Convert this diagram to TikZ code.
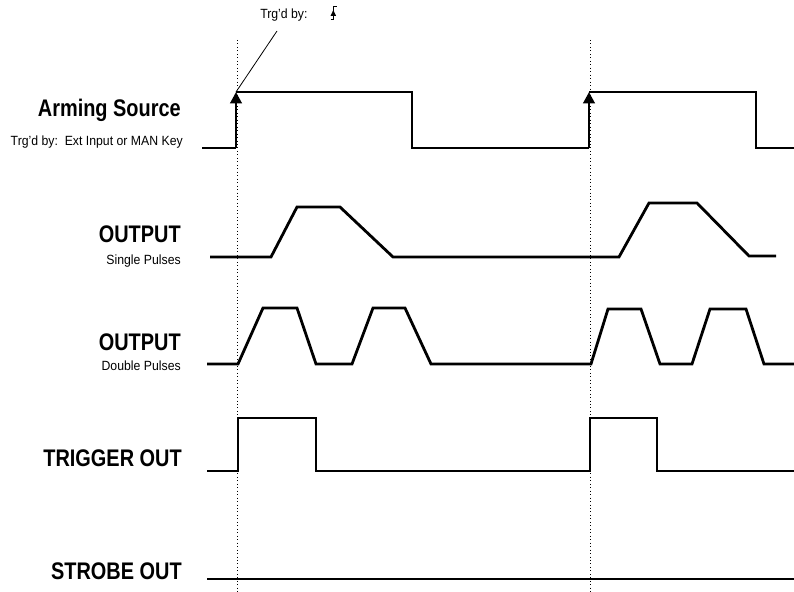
\documentclass[tikz,border=0pt]{standalone}
\usepackage{fontspec}
\setmainfont{Liberation Sans}[FakeStretch=0.92]
\newfontfamily\sigfont{Liberation Sans}[FakeStretch=0.83]
\usetikzlibrary{arrows.meta}
\tikzset{
    signal/.style={line width=2.1pt},
    marker/.style={line width=0.6pt, dotted},
    armtip/.style={signal, -{Triangle[width=8.5pt,length=8.5pt]}},
    siglabel/.style={anchor=base east, inner sep=0pt, font=\sigfont\bfseries\fontsize{18}{20}\selectfont},
    sublabel/.style={anchor=base east, inner sep=0pt, font=\fontsize{10}{12}\selectfont},
}
\begin{document}
\begin{tikzpicture}[x=0.75pt,y=-0.75pt]
        \useasboundingbox (0,0) rectangle (794,592);
        \foreach \t in {237, 590} {
            \draw[marker] (\t, 40) -- (\t, 592);
        }

        \node[siglabel] (arming) at (181, 117) {Arming Source};
        \node[sublabel] (armingsub) at (183, 145.5) {Trg'd by:\ \ Ext Input or MAN Key};
        \node[siglabel] (single) at (181, 243) {OUTPUT};
        \node[sublabel] (singlesub) at (181, 264) {Single Pulses};
        \node[siglabel] (double) at (181, 350) {OUTPUT};
        \node[sublabel] (doublesub) at (181, 370.5) {Double Pulses};
        \node[siglabel] (trigger) at (182, 466.5) {TRIGGER OUT};
        \node[siglabel] (strobe) at (182, 579) {STROBE OUT};
        \node[sublabel, anchor=base west] (trgby) at (260, 19) {Trg'd by:};

        \coordinate (arm1) at (236, 92);
        \coordinate (arm2) at (589, 92);
        \coordinate (lead) at (277, 31);
        \draw[line width=0.6pt] (arm1) -- (lead);

        \draw[line width=0.6pt] (330.5, 19.5) -- (333.3, 19.5) -- (333.3, 6) -- (337, 6);
        \fill (333.3, 10) -- (330.5, 16) -- (336.1, 16) -- cycle;

        \draw[signal] (202, 148) -- (236, 148);
        \draw[armtip] (236, 148) -- (arm1);
        \draw[signal] (arm1) -- (412, 92) -- (412, 148) -- (589, 148);
        \draw[armtip] (589, 148) -- (arm2);
        \draw[signal] (arm2) -- (756, 92) -- (756, 148) -- (794, 148);

        \draw[signal] (210, 257) -- (271, 257) -- (297, 207) -- (340, 207) -- (393, 257)
            -- (619, 257) -- (649, 203) -- (697, 203) -- (749, 256) -- (776, 256);

        \draw[signal] (207, 364) -- (238, 364) -- (263, 308) -- (297, 308) -- (316, 364)
            -- (352, 364) -- (373, 308) -- (405, 308) -- (431, 364)
            -- (591, 364) -- (608, 309) -- (641, 309) -- (660, 364)
            -- (692, 364) -- (710, 309) -- (746, 309) -- (764, 364) -- (794, 364);

        \draw[signal] (207, 471) -- (238, 471) -- (238, 418) -- (316, 418) -- (316, 471)
            -- (590, 471) -- (590, 418) -- (657, 418) -- (657, 471) -- (794, 471);

        \draw[signal] (207, 579) -- (794, 579);
    \end{tikzpicture}
\end{document}
